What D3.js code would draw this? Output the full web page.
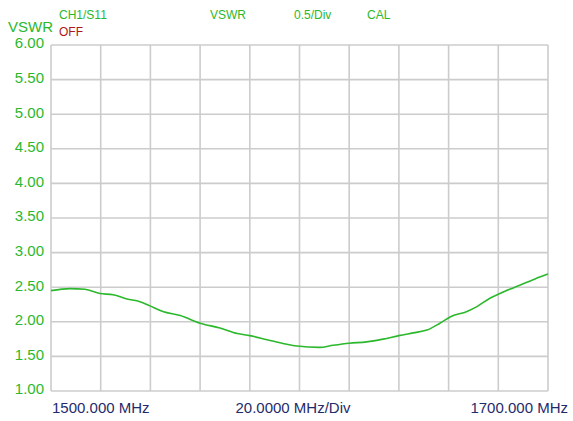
<!DOCTYPE html>
<html>
<head>
<meta charset="utf-8">
<script src="https://cdn.jsdelivr.net/npm/d3@7"></script>
<style>
  body { margin: 0; background: #fff; }
  svg text { font-family: "Liberation Sans", Arial, sans-serif; }
</style>
</head>
<body>
<div id="chart"></div>
<script>
// ---DATA---//
var freqs = [1500, 1507.6, 1513.7, 1519.7, 1525, 1530.6, 1535.8, 1539.8, 1545, 1552,
	1560, 1568, 1575, 1580, 1587, 1593, 1599, 1608, 1613.5, 1620,
	1627, 1633.6, 1640, 1645.7, 1651.3, 1656.5, 1660.6, 1667.4, 1671.4, 1676.6,
	1680.7, 1686, 1691.5, 1694.8, 1700];
var vswr = [2.45, 2.48, 2.47, 2.41, 2.39, 2.33, 2.29, 2.23, 2.15, 2.09,
	1.98, 1.91, 1.83, 1.80, 1.74, 1.69, 1.65, 1.63, 1.66, 1.69,
	1.71, 1.75, 1.80, 1.84, 1.88, 1.98, 2.07, 2.15, 2.22, 2.34,
	2.41, 2.49, 2.57, 2.62, 2.69];
var yTicks = [1.00, 1.50, 2.00, 2.50, 3.00, 3.50, 4.00, 4.50, 5.00, 5.50, 6.00];
var xGrid = d3.range(1500, 1701, 20);
var headerLabels = ["CH1/S11", "VSWR", "0.5/Div", "CAL"];
var footerLabels = ["1500.000 MHz", "20.0000 MHz/Div", "1700.000 MHz"];

// ---LAYOUT---//
var width = 573, height = 421;
var margin = { left: 51, top: 45, right: 25, bottom: 30 };
var green = "#2cb82c";

var svg = d3.select("#chart").append("svg")
	.attr("width", width).attr("height", height);

var x = d3.scaleLinear().domain([1500, 1700]).range([margin.left, width - margin.right]);
var y = d3.scaleLinear().domain([1, 6]).range([height - margin.bottom, margin.top]);

// grid
var grid = svg.append("g").attr("class", "grid");
grid.selectAll("line.v").data(xGrid).enter().append("line")
	.attr("x1", function(d) { return x(d); })
	.attr("x2", function(d) { return x(d); })
	.attr("y1", y(1)).attr("y2", y(6))
	.attr("stroke", "#cccccc").attr("stroke-width", 1.6);
grid.selectAll("line.h").data(yTicks).enter().append("line")
	.attr("x1", x(1500)).attr("x2", x(1700))
	.attr("y1", function(d) { return y(d); })
	.attr("y2", function(d) { return y(d); })
	.attr("stroke", "#cccccc").attr("stroke-width", 1.6);

// y axis labels
var yAxis = d3.axisLeft(y).tickValues(yTicks).tickFormat(d3.format(".2f")).tickSize(0).tickPadding(7);
var yg = svg.append("g").attr("transform", "translate(" + margin.left + ",-2)").call(yAxis);
yg.select(".domain").remove();
yg.selectAll("text").attr("fill", green).style("font-size", "15px")
	.style("font-family", "'Liberation Sans', Arial, sans-serif");

// trace
var line = d3.line()
	.x(function(d, i) { return x(freqs[i]); })
	.y(function(d) { return y(d); })
	.curve(d3.curveMonotoneX);
svg.append("path").datum(vswr)
	.attr("d", line)
	.attr("fill", "none")
	.attr("stroke", green)
	.attr("stroke-width", 1.6);

// header
svg.append("text").attr("x", 8).attr("y", 32).text("VSWR")
	.attr("fill", green).style("font-size", "15px");
var headerX = [59, 210, 294, 367];
svg.selectAll("text.hdr").data(headerLabels).enter().append("text")
	.attr("class", "hdr")
	.attr("x", function(d, i) { return headerX[i]; })
	.attr("y", 19)
	.text(function(d) { return d; })
	.attr("fill", green).style("font-size", "12px");
svg.append("text").attr("x", 59).attr("y", 36).text("OFF")
	.attr("fill", "#b01818").style("font-size", "12px");

// footer
var footerX = [52, 293, 568];
var footerAnchor = ["start", "middle", "end"];
svg.selectAll("text.ftr").data(footerLabels).enter().append("text")
	.attr("class", "ftr")
	.attr("x", function(d, i) { return footerX[i]; })
	.attr("y", 413)
	.attr("text-anchor", function(d, i) { return footerAnchor[i]; })
	.text(function(d) { return d; })
	.attr("fill", "#1f2b6b").style("font-size", "15px");
</script>
</body>
</html>
